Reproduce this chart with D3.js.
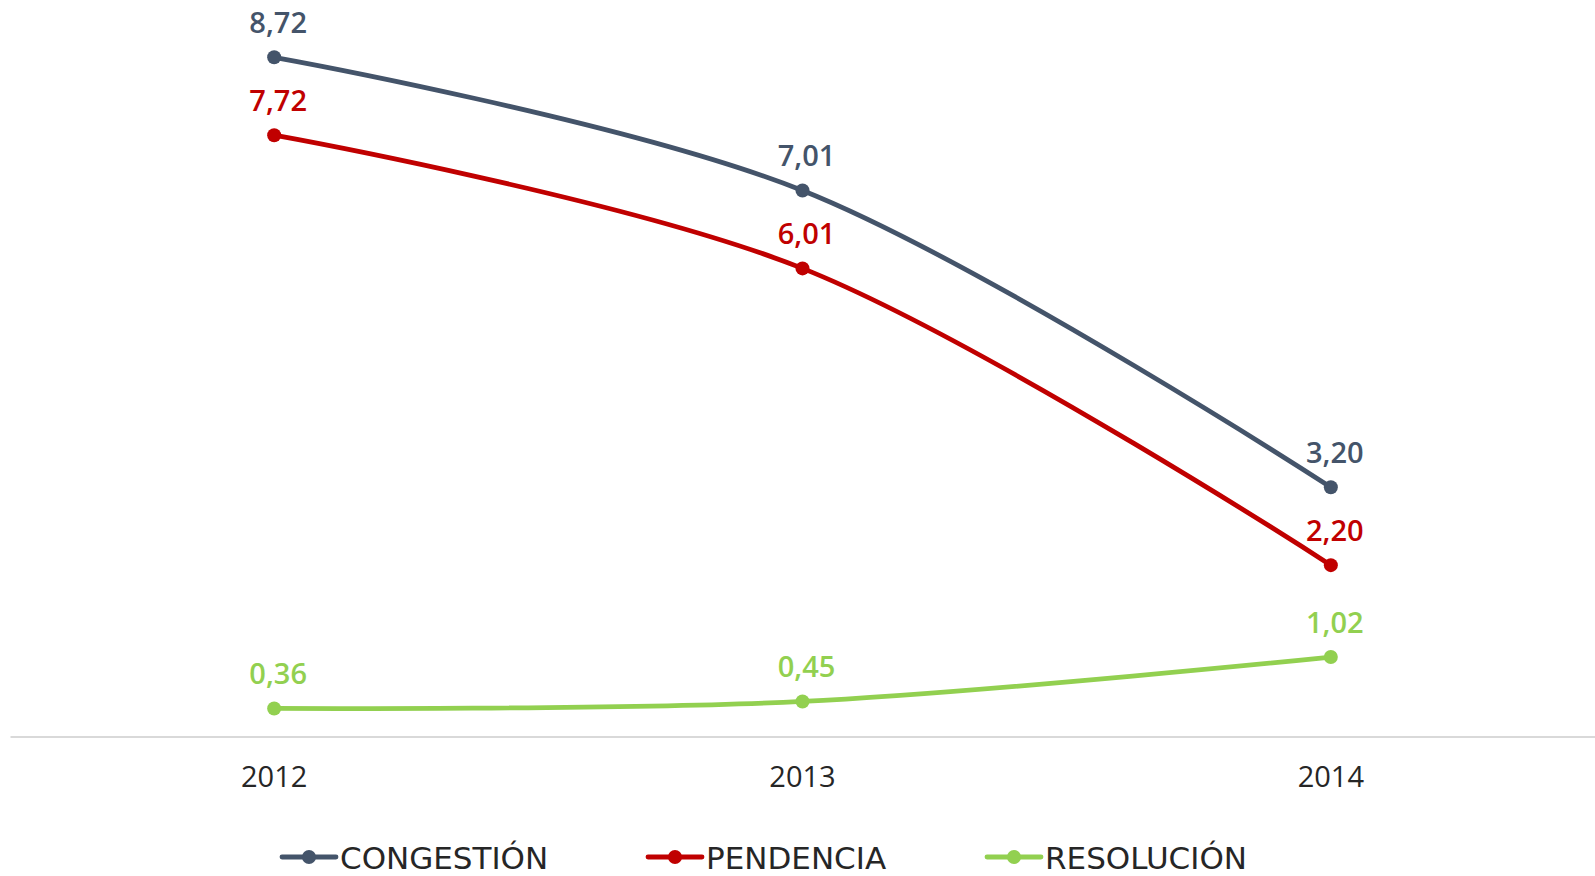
<!DOCTYPE html>
<html>
<head>
<meta charset="utf-8">
<script src="https://cdn.jsdelivr.net/npm/d3@7"></script>
<style>
  body { margin: 0; background: #fff; }
  svg { display: block; }
</style>
</head>
<body>
<div class="playground"></div>
<script>
// data
var years = ["2012", "2013", "2014"];
var congestion = [8.72, 7.01, 3.20];
var pendencia = [7.72, 6.01, 2.20];
var resolucion = [0.36, 0.45, 1.02];
var seriesNames = ["CONGESTIÓN", "PENDENCIA", "RESOLUCIÓN"];
var seriesColors = ["#44546A", "#C00000", "#92D050"];

var W = 1595, H = 876;

var svg = d3.select('body').select('.playground')
  .append('svg')
  .attr('width', W)
  .attr('height', H);

var x = d3.scaleBand().domain(years).range([10, 1595]).padding(0);
var y = d3.scaleLinear().domain([0, 9]).range([736.5, 35.5]);

// baseline axis
var xAxis = d3.axisBottom(x).tickSize(0).tickPadding(30);
var gx = svg.append('g')
  .attr('transform', 'translate(0,' + y(0) + ')')
  .call(xAxis);
gx.select('.domain').attr('stroke', '#D9D9D9').attr('stroke-width', 2);
gx.selectAll('text')
  .attr('fill', '#262626')
  .style('font-family', '"Open Sans", sans-serif')
  .style('font-size', '29px');

var all = [congestion, pendencia, resolucion];

var line = d3.line()
  .x(function(d, i){ return x(years[i]) + x.bandwidth() / 2; })
  .y(function(d){ return y(d); })
  .curve(d3.curveCatmullRom.alpha(0.5));

all.forEach(function(vals, k){
  var g = svg.append('g');
  g.append('path')
    .datum(vals)
    .attr('d', line)
    .attr('fill', 'none')
    .attr('stroke', seriesColors[k])
    .attr('stroke-width', 4.8);
  g.selectAll('circle')
    .data(vals)
    .enter()
    .append('circle')
    .attr('cx', function(d, i){ return x(years[i]) + x.bandwidth() / 2; })
    .attr('cy', function(d){ return y(d); })
    .attr('r', 7)
    .attr('fill', seriesColors[k]);
  g.selectAll('text')
    .data(vals)
    .enter()
    .append('text')
    .attr('x', function(d, i){ return x(years[i]) + x.bandwidth() / 2 + 4; })
    .attr('y', function(d){ return y(d) - 24; })
    .attr('text-anchor', 'middle')
    .attr('fill', seriesColors[k])
    .style('font-family', '"Open Sans", sans-serif')
    .style('font-weight', 600)
    .style('font-size', '29px')
    .text(function(d){ return d.toFixed(2).replace('.', ','); });
});

// legend
var legendX = [282, 648, 987];
var legend = svg.append('g').selectAll('g')
  .data(seriesNames)
  .enter()
  .append('g')
  .attr('transform', function(d, i){ return 'translate(' + legendX[i] + ',857)'; });
legend.append('line')
  .attr('x1', 0).attr('x2', 54)
  .attr('stroke', function(d, i){ return seriesColors[i]; })
  .attr('stroke-width', 4.8)
  .attr('stroke-linecap', 'round');
legend.append('circle')
  .attr('cx', 27).attr('r', 7)
  .attr('fill', function(d, i){ return seriesColors[i]; });
legend.append('text')
  .attr('x', 58)
  .attr('y', 12)
  .attr('fill', '#262626')
  .style('font-family', '"DejaVu Sans", sans-serif')
  .style('font-size', '31px')
  .text(function(d){ return d; });
</script>
</body>
</html>
